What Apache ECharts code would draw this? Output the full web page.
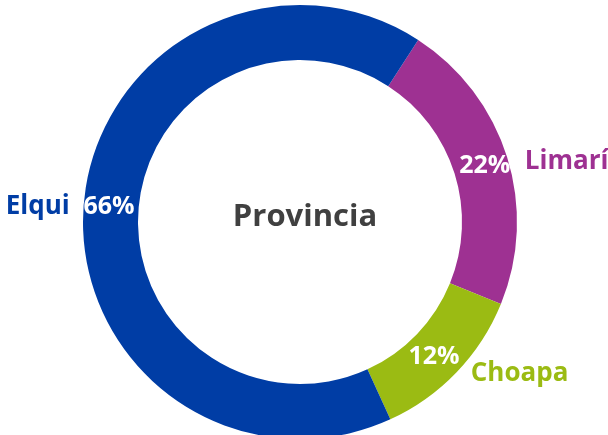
<!DOCTYPE html>
<html>
<head>
<meta charset="utf-8">
<script src="https://cdn.jsdelivr.net/npm/echarts@6/dist/echarts.min.js"></script>
<style>
  html, body { margin: 0; padding: 0; background: #fff; }
  #chart { width: 608px; height: 435px; }
</style>
</head>
<body>
<div id="chart"></div>
<script>
// datos
const provincias = ['Limarí', 'Choapa', 'Elqui']
const porcentajes = [22, 12, 66]
const colores = ['#9E3192', '#9BBB13', '#003DA5']
const titulo = 'Provincia'

// ajuste de etiquetas
const offsetNombres = [[8, 21], [24, -36], [8, 4]]
const offsetPct = [[1, 1], [-5, 2], [1, -1]]

const fuente = '"Open Sans", "Noto Sans", sans-serif'

const chart = echarts.init(document.getElementById('chart'))

const option = {
  animation: false,
  title: {
    text: titulo,
    left: 300,
    top: 212,
    textAlign: 'center',
    textVerticalAlign: 'middle',
    textStyle: { color: '#404040', fontSize: 31, fontWeight: 'bold', fontFamily: fuente }
  },
  series: [
    {
      type: 'pie',
      center: [300, 222],
      radius: [162, 217],
      startAngle: 57,
      clockwise: true,
      silent: true,
      data: provincias.map((n, i) => ({
        name: n,
        value: porcentajes[i],
        itemStyle: { color: colores[i] },
        label: { offset: offsetPct[i] }
      })),
      label: {
        show: true,
        position: 'inside',
        formatter: '{c}%',
        color: '#fff',
        fontSize: 25,
        fontWeight: 'bold',
        fontFamily: fuente
      },
      labelLine: { show: false }
    },
    {
      type: 'pie',
      center: [300, 222],
      radius: [262, 274],
      startAngle: 57,
      clockwise: true,
      silent: true,
      itemStyle: { color: 'transparent' },
      data: provincias.map((n, i) => ({
        name: n,
        value: porcentajes[i],
        label: {
          color: colores[i],
          offset: offsetNombres[i]
        }
      })),
      label: {
        show: true,
        position: 'inside',
        formatter: '{b}',
        fontSize: 26,
        fontWeight: 'bold',
        fontFamily: fuente
      },
      labelLine: { show: false }
    }
  ]
}

chart.setOption(option)
</script>
</body>
</html>
